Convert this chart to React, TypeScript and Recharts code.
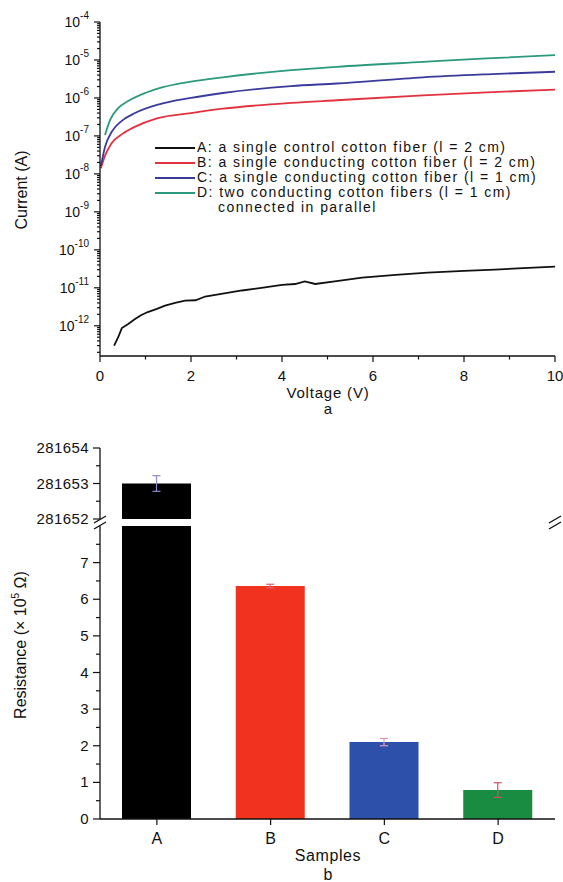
import React from "react";
import { LineChart, Line, XAxis, YAxis, BarChart, Bar, Cell, ErrorBar } from "recharts";

const FONT = "'Liberation Sans', Arial, sans-serif";
const INK = "#111";

// panel a: current vs voltage, one pair of arrays per sample
const voltageA = [0.31, 0.4, 0.48, 0.62, 0.77, 0.9, 1.05, 1.25, 1.43, 1.65, 1.87, 2.1, 2.31, 2.7, 3.12, 3.55, 4.0, 4.29, 4.5, 4.73, 5.2, 5.76, 6.5, 7.2, 8.0, 8.68, 9.3, 10];
const currentA = [3.0e-13, 5.0e-13, 8.7e-13, 1.12e-12, 1.5e-12, 1.9e-12, 2.3e-12, 2.8e-12, 3.4e-12, 4.0e-12, 4.6e-12, 4.7e-12, 5.9e-12, 7.0e-12, 8.5e-12, 1.0e-11, 1.2e-11, 1.26e-11, 1.48e-11, 1.26e-11, 1.5e-11, 1.86e-11, 2.2e-11, 2.5e-11, 2.8e-11, 3.0e-11, 3.3e-11, 3.6e-11];

const voltageB = [0.02, 0.1, 0.25, 0.5, 0.75, 1.25, 2.0, 2.7, 4.2, 5.2, 7.1, 8.5, 10];
const currentB = [1.4e-8, 2.8e-8, 6.3e-8, 1.15e-7, 1.7e-7, 2.9e-7, 4.0e-7, 5.2e-7, 7.4e-7, 8.7e-7, 1.17e-6, 1.4e-6, 1.66e-6];

const voltageC = [0.02, 0.11, 0.26, 0.48, 0.77, 1.3, 2.0, 2.7, 4.2, 5.2, 7.1, 8.5, 10];
const currentC = [1.6e-8, 5.1e-8, 1.3e-7, 2.5e-7, 4.0e-7, 6.8e-7, 1.0e-6, 1.35e-6, 2.05e-6, 2.4e-6, 3.5e-6, 4.2e-6, 4.9e-6];

const voltageD = [0.11, 0.22, 0.4, 0.62, 0.99, 1.36, 2.0, 2.7, 4.2, 5.2, 7.1, 8.5, 10];
const currentD = [1.05e-7, 2.6e-7, 5.4e-7, 8.3e-7, 1.35e-6, 1.9e-6, 2.7e-6, 3.5e-6, 5.4e-6, 6.6e-6, 8.9e-6, 1.1e-5, 1.34e-5];

const seriesLabels = [
  "A: a single control cotton fiber (l = 2 cm)",
  "B: a single conducting cotton fiber (l = 2 cm)",
  "C: a single conducting cotton fiber (l = 1 cm)",
  "D: two conducting cotton fibers (l = 1 cm)",
];
const seriesColors = ["#111111", "#e2323f", "#3a3a9c", "#2b9a7c"];

const currentDomain = [1.6e-13, 1e-4];
const voltageTicks = [0, 1, 2, 3, 4, 5, 6, 7, 8, 9, 10];

// panel b: resistance per sample
const samples = ["A", "B", "C", "D"];
const resistance = [281653, 6.36, 2.1, 0.79];
const resistanceErr = [0.22, 0.05, 0.1, 0.2];
const barColors = ["#000000", "#f0321e", "#2d50aa", "#198c41"];
const errColors = ["#8a8ad6", "#e06070", "#e39ab8", "#d05062"];
const upperDomain = [281652, 281654];
const lowerDomain = [0, 8];
const upperTicks = [281652, 281652.5, 281653, 281653.5, 281654];
const lowerTicks = [0, 0.5, 1, 1.5, 2, 2.5, 3, 3.5, 4, 4.5, 5, 5.5, 6, 6.5, 7, 7.5];

const series = [
  { v: voltageA, i: currentA },
  { v: voltageB, i: currentB },
  { v: voltageC, i: currentC },
  { v: voltageD, i: currentD },
].map((s, k) => ({
  name: seriesLabels[k],
  color: seriesColors[k],
  data: s.v.map((v, j) => ({ v, i: s.i[j] })),
}));

// log ticks: 1..9 x each decade, inside the domain
const currentTicks: number[] = [];
for (let e = -13; e <= -5; e++) {
  for (let m = 1; m <= 9; m++) {
    const t = Number((m * Math.pow(10, e)).toPrecision(3));
    if (t >= currentDomain[0] && t <= currentDomain[1]) currentTicks.push(t);
  }
}
currentTicks.push(1e-4);

const upperData = samples.map((name, k) => {
  const row: Record<string, any> = { name, value: resistance[k] >= upperDomain[0] ? resistance[k] : null };
  if (resistance[k] >= upperDomain[0]) row[`err${k}`] = resistanceErr[k];
  return row;
});
const lowerData = samples.map((name, k) => {
  const row: Record<string, any> = { name, value: resistance[k] };
  if (resistance[k] <= lowerDomain[1]) row[`err${k}`] = resistanceErr[k];
  return row;
});

const isDecade = (v: number) => {
  const l = Math.log10(v);
  return Math.abs(l - Math.round(l)) < 1e-6;
};

function LogTick(props: any) {
  const { x, y, payload } = props;
  const major = isDecade(payload.value);
  const exp = Math.round(Math.log10(payload.value));
  return (
    <g>
      <line x1={x - (major ? 6 : 3)} x2={x} y1={y} y2={y} stroke={INK} strokeWidth={1.2} />
      {major && (
        <text x={x - 11} y={y + 5} textAnchor="end" fontFamily={FONT} fill={INK}>
          <tspan fontSize={14}>10</tspan>
          <tspan fontSize={10} dy={-8}>{exp}</tspan>
        </text>
      )}
    </g>
  );
}

function VoltTick(props: any) {
  const { x, y, payload } = props;
  const major = payload.value % 2 === 0;
  return (
    <g>
      <line x1={x} x2={x} y1={y} y2={y + (major ? 6 : 3.5)} stroke={INK} strokeWidth={1.2} />
      {major && (
        <text x={x} y={y + 25} textAnchor="middle" fontSize={15} fontFamily={FONT} fill={INK}>
          {payload.value}
        </text>
      )}
    </g>
  );
}

function ResTick(props: any) {
  const { x, y, payload } = props;
  const major = Number.isInteger(payload.value);
  return (
    <g>
      <line x1={x - (major ? 7 : 4)} x2={x} y1={y} y2={y} stroke={INK} strokeWidth={1.2} />
      {major && (
        <text x={x - 11} y={y + 5} textAnchor="end" fontSize={15} letterSpacing={0.4} fontFamily={FONT} fill={INK}>
          {payload.value}
        </text>
      )}
    </g>
  );
}

const axisLine = { stroke: INK, strokeWidth: 1.3 };

const abs = (left: number, top: number, extra: React.CSSProperties = {}): React.CSSProperties => ({
  position: "absolute",
  left,
  top,
  transform: "translate(-50%, -50%)",
  whiteSpace: "nowrap",
  fontFamily: FONT,
  color: INK,
  ...extra,
});

export default function App() {
  return (
    <div style={{ position: "absolute", left: 0, top: 0, width: 563, height: 882, background: "#fff", overflow: "hidden" }}>
      {/* panel a */}
      <div style={{ position: "absolute", left: 0, top: 0 }}>
        <LineChart width={563} height={400} margin={{ top: 22, right: 8, left: 0, bottom: 14 }}>
          <XAxis
            dataKey="v"
            type="number"
            domain={[0, 10]}
            ticks={voltageTicks}
            interval={0}
            height={30}
            axisLine={axisLine}
            tickLine={false}
            tickSize={0}
            tickMargin={0}
            tick={(p: any) => <VoltTick {...p} />}
            allowDuplicatedCategory={false}
          />
          <XAxis xAxisId="top" orientation="top" type="number" domain={[0, 10]} height={0} tick={false} tickLine={false} axisLine={axisLine} />
          <YAxis
            dataKey="i"
            scale="log"
            domain={currentDomain}
            allowDataOverflow
            ticks={currentTicks}
            interval={0}
            width={100}
            axisLine={axisLine}
            tickLine={false}
            tickSize={0}
            tickMargin={0}
            tick={(p: any) => <LogTick {...p} />}
          />
          <YAxis yAxisId="right" orientation="right" width={0} tick={false} tickLine={false} axisLine={axisLine} />
          {series.map((s, k) => (
            <Line
              key={s.name}
              data={s.data}
              dataKey="i"
              name={s.name}
              type={k === 0 ? "linear" : "monotone"}
              stroke={s.color}
              strokeWidth={1.8}
              dot={false}
              isAnimationActive={false}
            />
          ))}
        </LineChart>
      </div>

      {/* legend of panel a */}
      <div style={{ position: "absolute", left: 155, top: 140, fontFamily: FONT, fontSize: 14, letterSpacing: 1.45, color: INK, lineHeight: "15px" }}>
        {series.map((s) => (
          <div key={s.name} style={{ display: "flex", alignItems: "center", height: 15 }}>
            <span style={{ display: "inline-block", width: 40, height: 2, background: s.color, marginRight: 2 }} />
            <span style={{ whiteSpace: "nowrap" }}>{s.name}</span>
          </div>
        ))}
        <div style={{ paddingLeft: 63, height: 15, whiteSpace: "nowrap" }}>connected in parallel</div>
      </div>

      <div style={abs(22, 190, { transform: "translate(-50%, -50%) rotate(-90deg)", fontSize: 16 })}>Current (A)</div>
      <div style={abs(328, 392, { fontSize: 15, letterSpacing: 0.8 })}>Voltage (V)</div>
      <div style={abs(328, 408, { fontSize: 15 })}>a</div>

      {/* panel b, upper segment */}
      <div style={{ position: "absolute", left: 0, top: 440 }}>
        <BarChart width={563} height={94} data={upperData} margin={{ top: 8, right: 8, left: 0, bottom: 15 }}>
          <XAxis dataKey="name" hide />
          <XAxis xAxisId="top" dataKey="name" orientation="top" height={0} tick={false} tickLine={false} axisLine={axisLine} />
          <YAxis
            type="number"
            domain={upperDomain}
            allowDataOverflow
            ticks={upperTicks}
            interval={0}
            width={100}
            axisLine={axisLine}
            tickLine={false}
            tickSize={0}
            tickMargin={0}
            tick={(p: any) => <ResTick {...p} />}
          />
          <YAxis yAxisId="right" orientation="right" width={0} tick={false} tickLine={false} axisLine={axisLine} />
          <Bar dataKey="value" barSize={69} isAnimationActive={false}>
            {upperData.map((d, k) => (
              <Cell key={d.name} fill={barColors[k]} />
            ))}
            {samples.map((s, k) => (
              <ErrorBar key={s} dataKey={`err${k}`} width={4} stroke={errColors[k]} strokeWidth={1.2} isAnimationActive={false} />
            ))}
          </Bar>
        </BarChart>
      </div>

      {/* panel b, lower segment */}
      <div style={{ position: "absolute", left: 0, top: 520 }}>
        <BarChart width={563} height={330} data={lowerData} margin={{ top: 6, right: 8, left: 0, bottom: 5 }}>
          <XAxis
            dataKey="name"
            height={26}
            axisLine={axisLine}
            tickLine={{ stroke: INK, strokeWidth: 1.2 }}
            tickSize={6}
            tickMargin={8}
            tick={{ fill: INK, fontSize: 16, fontFamily: FONT }}
          />
          <YAxis
            type="number"
            domain={lowerDomain}
            allowDataOverflow
            ticks={lowerTicks}
            interval={0}
            width={100}
            axisLine={axisLine}
            tickLine={false}
            tickSize={0}
            tickMargin={0}
            tick={(p: any) => <ResTick {...p} />}
          />
          <YAxis yAxisId="right" orientation="right" width={0} tick={false} tickLine={false} axisLine={axisLine} />
          <Bar dataKey="value" barSize={69} isAnimationActive={false}>
            {lowerData.map((d, k) => (
              <Cell key={d.name} fill={barColors[k]} />
            ))}
            {samples.map((s, k) => (
              <ErrorBar key={s} dataKey={`err${k}`} width={4} stroke={errColors[k]} strokeWidth={1.2} isAnimationActive={false} />
            ))}
          </Bar>
        </BarChart>
      </div>

      {/* axis break marks */}
      <svg width={563} height={882} style={{ position: "absolute", left: 0, top: 0, pointerEvents: "none" }}>
        {[100, 555].map((x) => (
          <g key={x} stroke={INK} strokeWidth={1.4}>
            <line x1={x - 6} y1={523} x2={x + 6} y2={516} />
            <line x1={x - 6} y1={529} x2={x + 6} y2={522} />
          </g>
        ))}
      </svg>

      <div style={abs(20, 645, { transform: "translate(-50%, -50%) rotate(-90deg)", fontSize: 16 })}>
        Resistance (× 10<sup style={{ fontSize: 10 }}>5</sup> Ω)
      </div>
      <div style={abs(328, 856, { fontSize: 16, letterSpacing: 0.6 })}>Samples</div>
      <div style={abs(328, 875, { fontSize: 16 })}>b</div>
    </div>
  );
}
